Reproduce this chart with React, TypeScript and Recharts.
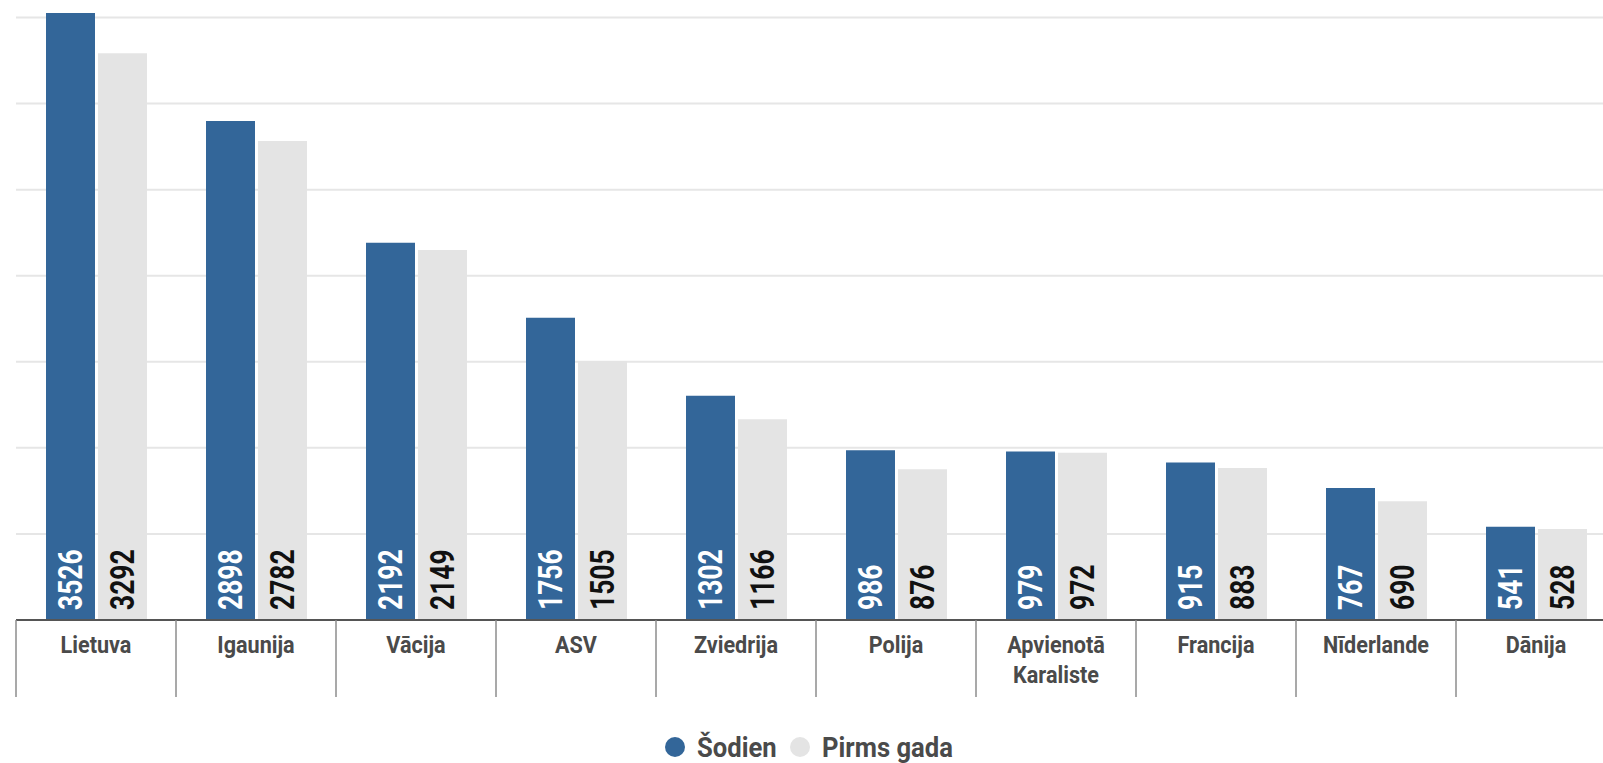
import { BarChart, Bar, XAxis, YAxis, CartesianGrid, Legend, LabelList } from "recharts";

const countries = [
  "Lietuva",
  "Igaunija",
  "Vācija",
  "ASV",
  "Zviedrija",
  "Polija",
  "Apvienotā Karaliste",
  "Francija",
  "Nīderlande",
  "Dānija",
];
const today = [3526, 2898, 2192, 1756, 1302, 986, 979, 915, 767, 541];
const yearAgo = [3292, 2782, 2149, 1505, 1166, 876, 972, 883, 690, 528];
const yTicks = [0, 500, 1000, 1500, 2000, 2500, 3000, 3500];
const seriesNames = ["Šodien", "Pirms gada"];

const BLUE = "#336699";
const GRAY = "#e4e4e4";
const FONT = "Roboto, 'Noto Sans', sans-serif";
const yMax = Math.max(...today, ...yearAgo);

const data = countries.map((name, i) => ({ name, today: today[i], yearAgo: yearAgo[i] }));

function CountryTick(props: any) {
  const { x, y, payload } = props;
  const half = payload?.offset ?? 80;
  const lines = String(payload.value).split(" ");
  return (
    <g>
      <line x1={x - half} x2={x - half} y1={y} y2={y + 77} stroke="#8c8c8c" strokeWidth={1.5} />
      <text
        transform={`translate(${x},${y + 33}) scale(0.9,1)`}
        textAnchor="middle"
        fill="#4a4a4a"
        fontFamily={FONT}
        fontWeight={700}
        fontSize={24}
      >
        {lines.map((line, i) => (
          <tspan key={i} x={0} dy={i === 0 ? 0 : 30}>
            {line}
          </tspan>
        ))}
      </text>
    </g>
  );
}

const valueLabel = (fill: string) => (props: any) => {
  const { x, y, width, height, value } = props;
  const cx = Number(x) + Number(width) / 2;
  const by = Number(y) + Number(height) - 10;
  return (
    <text
      transform={`translate(${cx},${by}) rotate(-90) scale(0.8,1)`}
      textAnchor="start"
      dy="0.36em"
      fill={fill}
      fontFamily={FONT}
      fontWeight={700}
      fontSize={33}
    >
      {value}
    </text>
  );
};

function LegendContent() {
  return (
    <svg width={320} height={36}>
      <circle cx={15} cy={17} r={10} fill={BLUE} />
      <text fill="#4a4a4a" fontFamily={FONT} fontWeight={700} fontSize={27}
        transform="translate(37,27) scale(0.95,1)">
        {seriesNames[0]}
      </text>
      <circle cx={140} cy={17} r={10} fill={GRAY} />
      <text fill="#4a4a4a" fontFamily={FONT} fontWeight={700} fontSize={27}
        transform="translate(162,27) scale(0.95,1)">
        {seriesNames[1]}
      </text>
    </svg>
  );
}

const gridRows = ({ offset }: any) =>
  yTicks.map((t) => offset.top + offset.height * (1 - t / yMax));

export default function App() {
  return (
    <div
      style={{
        position: "fixed",
        left: 0,
        top: 0,
        width: 1603,
        height: 763,
        overflow: "hidden",
        background: "#fff",
      }}
    >
      <BarChart
        width={1640}
        height={763}
        data={data}
        margin={{ top: 13, right: 24, left: 16, bottom: 0 }}
        barCategoryGap={30}
        barGap={3}
      >
        <CartesianGrid
          vertical={false}
          stroke="#e6e6e6"
          strokeWidth={2}
          horizontalCoordinatesGenerator={gridRows}
        />
        <YAxis hide domain={[0, yMax]} ticks={yTicks} />
        <XAxis
          dataKey="name"
          height={143}
          axisLine={{ stroke: "#555", strokeWidth: 2 }}
          tickLine={false}
          tickSize={0}
          tickMargin={0}
          interval={0}
          tick={<CountryTick />}
        />
        <Legend
          verticalAlign="middle"
          align="center"
          layout="horizontal"
          content={<LegendContent />}
          wrapperStyle={{ top: 730, left: 660, width: 320, height: 36 }}
        />
        <Bar dataKey="today" name={seriesNames[0]} fill={BLUE} isAnimationActive={false}>
          <LabelList dataKey="today" content={valueLabel("#ffffff")} />
        </Bar>
        <Bar dataKey="yearAgo" name={seriesNames[1]} fill={GRAY} isAnimationActive={false}>
          <LabelList dataKey="yearAgo" content={valueLabel("#111111")} />
        </Bar>
      </BarChart>
    </div>
  );
}
